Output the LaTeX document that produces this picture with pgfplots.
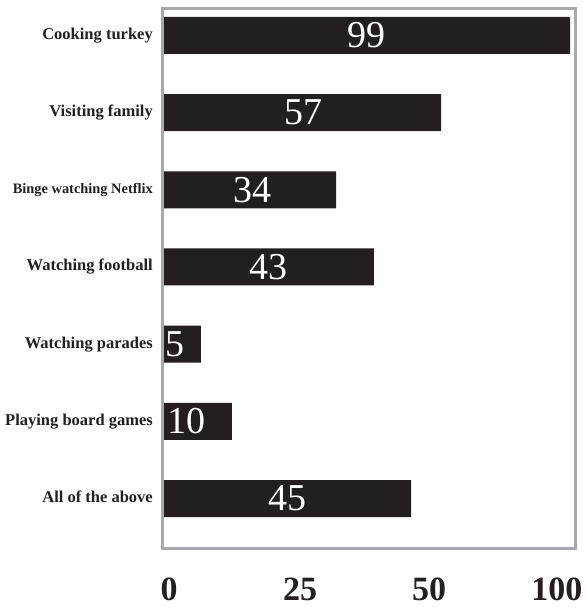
\documentclass[border=0pt]{standalone}
\usepackage{pgfplots}
\pgfplotsset{compat=1.18}
\usepackage{pgfplotstable}
\usepackage{fontspec}
\setmainfont{Liberation Serif}

\definecolor{barblack}{HTML}{231F20}
\definecolor{framegray}{HTML}{A7A9AC}

% pos = row (top = 6), len = drawn bar length, label = printed value, lx = label centre
\pgfplotstableread{
pos len  label lx
6   98.8 99    49.5
5   67.5 57    34.2
4   42.0 34    21.8
3   51.2 43    25.7
2   9.2  5     3.0
1   16.7 10    5.7
0   60.2 45    30.1
}\activities

\begin{document}
\begin{tikzpicture}
\useasboundingbox (-163pt,-61pt) rectangle (423pt,548pt);
\begin{axis}[
    scale only axis,
    width=412pt, height=539pt,
    at={(0,0)}, anchor=south west,
    xmin=0, xmax=100,
    ymin=-0.641, ymax=6.343,
    axis on top,
    axis line style={draw=framegray, line width=3pt},
    major tick length=0pt,
    xtick={1.5,33.3,64.6,95.6},
    xticklabels={0,25,50,100},
    xticklabel style={anchor=base, yshift=-52pt, text=barblack,
        font=\fontsize{34}{34}\selectfont\bfseries},
    ytick={0,1,2,3,4,5,6},
    yticklabels={All of the above, Playing board games, Watching parades,
        Watching football, {\fontsize{14.4}{14.4}\selectfont Binge watching Netflix},
        Visiting family, Cooking turkey},
    yticklabel style={anchor=base east, inner sep=0pt, xshift=-10pt, yshift=-4pt,
        text=barblack, font=\fontsize{16.5}{16.5}\selectfont\bfseries},
]
\addplot[xbar, fill=barblack, draw=none, bar width=37pt]
    table[x=len, y=pos] {\activities};
\addplot[draw=none, mark=none, nodes near coords, point meta=explicit symbolic,
    every node near coord/.append style={anchor=center, inner sep=0pt, text=white,
        font=\fontsize{38}{38}\selectfont}]
    table[x=lx, y=pos, meta=label] {\activities};
\end{axis}
\end{tikzpicture}
\end{document}
